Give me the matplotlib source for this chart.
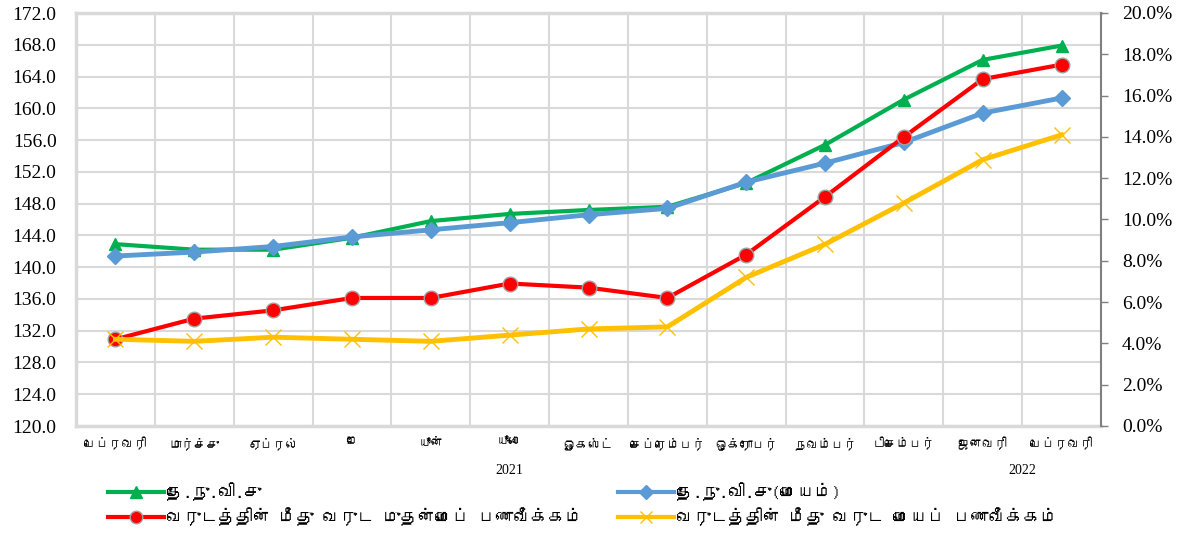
import matplotlib
matplotlib.use('Agg')
import matplotlib.pyplot as plt
from matplotlib import font_manager as fm
from matplotlib.lines import Line2D
from matplotlib.ticker import FuncFormatter, FixedLocator
import matplotlib.transforms as mtransforms

# ---------------- data ----------------
months = ['பெப்ரவரி', 'மார்ச்சு', 'ஏப்ரல்', 'மே', 'யூன்', 'யூலை', 'ஓகஸ்ட்',
          'செப்ரெம்பர்', 'ஒக்ரோபர்', 'நவம்பர்', 'டிசெம்பர்', 'ஜனவரி', 'பெப்ரவரி']
years = ['2021', '2022']
year_pos = [5, 11.5]
ncpi = [142.9, 142.2, 142.2, 143.7, 145.8, 146.7, 147.2, 147.6, 150.6, 155.4, 161.1, 166.1, 167.9]
ncpi_core = [141.4, 141.9, 142.6, 143.8, 144.7, 145.6, 146.6, 147.4, 150.7, 153.1, 155.7, 159.4, 161.3]
headline_inf = [4.2, 5.2, 5.6, 6.2, 6.2, 6.9, 6.7, 6.2, 8.3, 11.1, 14.0, 16.8, 17.5]
core_inf = [4.2, 4.1, 4.3, 4.2, 4.1, 4.4, 4.7, 4.8, 7.2, 8.8, 10.8, 12.9, 14.1]
series_names = ['தே.நு.வி.சு', 'தே.நு.வி.சு(மையம்)',
                'வருடத்தின் மீது வருட முதன்மைப் பணவீக்கம்',
                'வருடத்தின் மீது வருட மையப் பணவீக்கம்']


# ---------------- fonts ----------------
def find_tamil():
    try:
        from fontTools.ttLib import TTFont
    except Exception:
        return None
    seen = set()
    for f in fm.fontManager.ttflist:
        if f.fname in seen:
            continue
        seen.add(f.fname)
        try:
            tt = TTFont(f.fname, fontNumber=0, lazy=True)
            cmap = tt.getBestCmap()
            if cmap and 0x0BA4 in cmap and 0x0BC6 in cmap:
                return f.name
        except Exception:
            continue
    return None


tamil = find_tamil()
tfam = [tamil, 'DejaVu Sans'] if tamil else ['DejaVu Sans']
serif = ['Liberation Serif', 'DejaVu Serif']

GREEN = '#00B050'
BLUE = '#5B9BD5'
RED = '#FF0000'
YELLOW = '#FFC000'
GRID = '#D9D9D9'

fig = plt.figure(figsize=(11.85, 5.34), dpi=100)
ax = fig.add_axes([76 / 1185, 1 - 426 / 534, (1101 - 76) / 1185, (426 - 13) / 534])
ax2 = ax.twinx()

x = list(range(len(months)))

ax.set_xlim(-0.5, len(months) - 0.5)
ax.set_ylim(120, 172)
ax.yaxis.set_major_locator(FixedLocator([120 + 4 * i for i in range(14)]))
ax.yaxis.set_major_formatter(FuncFormatter(lambda v, p: f'{v:.1f}'))
ax2.set_ylim(0, 20)
ax2.yaxis.set_major_locator(FixedLocator([2 * i for i in range(11)]))
ax2.yaxis.set_major_formatter(FuncFormatter(lambda v, p: f'{v:.1f}%'))

# grid
ax.set_xticks(x)
ax.set_xticks([i + 0.5 for i in x[:-1]], minor=True)
ax.grid(True, which='major', axis='y', color=GRID, lw=1.5)
ax.grid(True, which='minor', axis='x', color=GRID, lw=1.5)
ax.set_axisbelow(True)

ax.set_xticklabels(months, fontsize=9, family=tfam)
ax.tick_params(axis='x', which='both', length=0, pad=8)
ax.tick_params(axis='y', length=0, pad=14, labelsize=14)
for lab in ax.get_yticklabels():
    lab.set_family(serif)
ax2.tick_params(axis='y', length=5, width=1, color='#808080', pad=10, labelsize=14)
for lab in ax2.get_yticklabels():
    lab.set_family(serif)

for s in ['left', 'top', 'bottom']:
    ax.spines[s].set_color(GRID)
    ax.spines[s].set_linewidth(2.5)
ax.spines['right'].set_visible(False)
for s in ['left', 'top', 'bottom']:
    ax2.spines[s].set_visible(False)
ax2.spines['right'].set_color('#808080')
ax2.spines['right'].set_linewidth(1.5)

# series
l1, = ax.plot(x, ncpi, color=GREEN, lw=3, marker='^', ms=9, mec=GREEN, mfc=GREEN, zorder=3)
l2, = ax.plot(x, ncpi_core, color=BLUE, lw=3.5, marker='D', ms=8, mec=BLUE, mfc=BLUE, zorder=4)
l3, = ax2.plot(x, headline_inf, color=RED, lw=3, marker='o', ms=10.5, mfc=RED, mec='#A0A0A0', mew=1, zorder=3)
l4, = ax2.plot(x, core_inf, color=YELLOW, lw=3.5, marker='x', ms=11, mew=1, mec=YELLOW, zorder=4)

# year labels
trans = mtransforms.blended_transform_factory(ax.transData, ax.transAxes)
for yp, yr in zip(year_pos, years):
    ax.text(yp, -0.108, yr, transform=trans, ha='center', va='center', fontsize=10, family=serif)

# legend (two columns)
h1 = Line2D([], [], color=GREEN, lw=3, marker='^', ms=8, mfc=GREEN, mec=GREEN)
h2 = Line2D([], [], color=BLUE, lw=3, marker='D', ms=7, mfc=BLUE, mec=BLUE)
h3 = Line2D([], [], color=RED, lw=3, marker='o', ms=9, mfc=RED, mec='#A0A0A0')
h4 = Line2D([], [], color=YELLOW, lw=3, marker='x', ms=9, mec=YELLOW)
kw = dict(frameon=False, prop={'family': tfam, 'size': 12.5}, handlelength=3.2,
          handletextpad=0.15, labelspacing=0.38, borderpad=0, borderaxespad=0)
lg1 = fig.legend([h1, h3], [series_names[0], series_names[2]], loc='upper left',
                 bbox_to_anchor=(108 / 1185, 1 - 482 / 534), **kw)
lg2 = fig.legend([h2, h4], [series_names[1], series_names[3]], loc='upper left',
                 bbox_to_anchor=(618 / 1185, 1 - 482 / 534), **kw)

fig.savefig('out.png', dpi=100)
